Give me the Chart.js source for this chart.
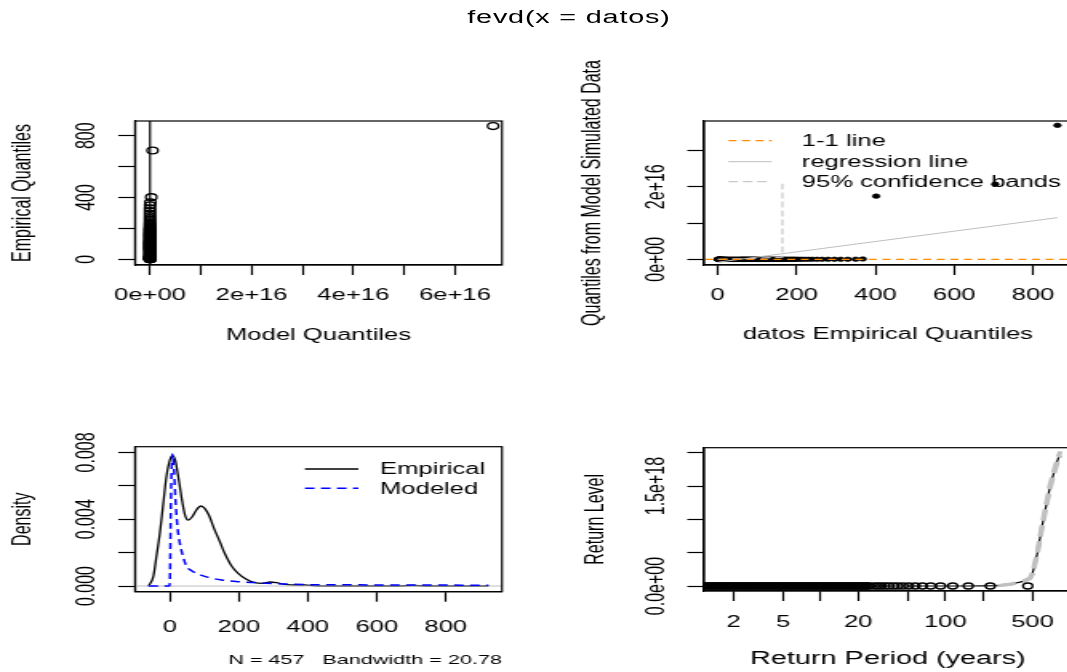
<!DOCTYPE html>
<html>
<head>
<meta charset="utf-8">
<script src="https://cdn.jsdelivr.net/npm/chart.js@4/dist/chart.umd.min.js"></script>
<style>
  html, body { margin: 0; padding: 0; background: #fff; overflow: hidden; width: 1067px; height: 672px; }
  /* the figure is laid out in a narrow frame and widened horizontally */
  #fig { position: absolute; left: 0; top: 0; width: 712px; height: 672px; transform: scaleX(1.6); transform-origin: 0 0; }
  #fig canvas { position: absolute; }
  #title { position: absolute; left: 355.6px; top: 8.1px; transform: translateX(-50%);
           font: 18px/18px 'Liberation Sans', Arial, sans-serif; letter-spacing: 0.5px; white-space: nowrap; color: #000; }
</style>
</head>
<body>
<div id="fig">
  <div id="title">fevd(x = datos)</div>
  <canvas id="qq"   width="356" height="320" style="left:0;top:40px"></canvas>
  <canvas id="sim"  width="356" height="320" style="left:356px;top:40px"></canvas>
  <canvas id="dens" width="356" height="307" style="left:0;top:365px"></canvas>
  <canvas id="rl"   width="356" height="307" style="left:356px;top:365px"></canvas>
</div>
<script>
// ---------- data ----------
// empirical quantiles of the sample (sorted ascending)
const datos = [
  0, 0, 1, 1, 2, 2, 3, 3, 4, 4, 5, 5, 6, 6, 7, 7, 8, 9, 10, 11,
  12, 13, 14, 15, 17, 19, 21, 23, 25, 28, 31, 34, 37,
  40, 43, 46, 49, 52, 55, 58, 60, 62, 64, 66, 68, 70, 72, 74, 76, 78, 80, 82, 84,
  86, 88, 90, 92, 94, 96, 98, 100, 102, 104, 106, 108, 110, 112, 114, 116, 118, 121, 124, 127,
  130, 133, 136, 139, 142, 145, 148, 151, 154, 157, 160, 163, 166, 169, 172, 176, 180, 184, 188, 192,
  196, 200,
  206, 213, 221, 230, 240, 252, 265, 280, 296, 312, 330,
  350, 368, 402, 704, 862];
// fitted model quantiles at the same probabilities
const modelQ = [
  0, 0, 0, 0, 0, 0, 0, 0, 1, 1, 1, 1, 1, 1, 1, 1, 2, 2, 2, 3,
  3, 4, 4, 5, 6, 7, 9, 11, 13, 17, 22, 28, 36,
  45, 58, 75, 95, 120, 150, 190, 240, 280, 330, 390, 460, 540, 640, 750, 880, 1.0e3, 1.2e3, 1.4e3, 1.7e3,
  2e3, 2.4e3, 2.9e3, 3.5e3, 4.2e3, 5e3, 6e3, 7.2e3, 8.6e3, 1e4, 1.2e4, 1.5e4, 1.8e4, 2.2e4, 2.7e4, 3.3e4, 4e4, 5.2e4, 6.8e4, 9e4,
  1.2e5, 1.6e5, 2.1e5, 2.8e5, 3.7e5, 4.9e5, 6.5e5, 8.6e5, 1.1e6, 1.5e6, 2e6, 2.7e6, 3.6e6, 4.8e6, 6.4e6, 9e6, 1.3e7, 1.8e7, 2.6e7, 3.7e7,
  5.3e7, 7.6e7,
  1.5e8, 3.5e8, 9e8, 2.4e9, 6.8e9, 2e10, 6e10, 1.9e11, 6e11, 2e12, 7e12,
  2.4e13, 8e13, 2.5e14, 5e14, 6.75e16];
// quantiles of data simulated from the fitted model
const simQ = [
  0, 0, 0, 0, 0, 0, 0, 1, 1, 1, 1, 1, 1, 1, 2, 2, 2, 2, 3, 3,
  4, 4, 5, 6, 7, 8, 10, 12, 15, 19, 24, 30, 38,
  48, 62, 80, 100, 125, 160, 200, 250, 300, 350, 410, 480, 560, 660, 780, 910, 1.05e3, 1.25e3, 1.45e3, 1.75e3,
  2.1e3, 2.5e3, 3e3, 3.6e3, 4.3e3, 5.2e3, 6.2e3, 7.4e3, 8.8e3, 1.05e4, 1.25e4, 1.55e4, 1.9e4, 2.3e4, 2.8e4, 3.4e4, 4.2e4, 5.4e4, 7e4, 9.3e4,
  1.25e5, 1.65e5, 2.2e5, 2.9e5, 3.8e5, 5e5, 6.7e5, 8.9e5, 1.15e6, 1.55e6, 2.1e6, 2.8e6, 3.7e6, 5e6, 6.6e6, 9.3e6, 1.35e7, 1.9e7, 2.7e7, 3.9e7,
  5.5e7, 8e7,
  1.6e8, 3.7e8, 9.5e8, 2.5e9, 7e9, 2.1e10, 6.3e10, 2e11, 6.3e11, 2.1e12, 7.3e12,
  2.6e13, 9e13, 1.74e16, 2.07e16, 3.69e16];
// empirical return period of each value in datos
const rlPeriod = [
  1.07, 1.107, 1.145, 1.184, 1.225, 1.267, 1.31, 1.355, 1.402, 1.45,
  1.499, 1.551, 1.604, 1.659, 1.716, 1.775, 1.836, 1.899, 1.964, 2.031,
  2.101, 2.173, 2.247, 2.324, 2.404, 2.487, 2.572, 2.66, 2.751, 2.846,
  2.943, 3.044, 3.149, 3.257, 3.368, 3.484, 3.603, 3.727, 3.855, 3.987,
  4.124, 4.265, 4.411, 4.563, 4.719, 4.881, 5.048, 5.222, 5.401, 5.586,
  5.778, 5.976, 6.181, 6.393, 6.612, 6.839, 7.074, 7.316, 7.567, 7.827,
  8.095, 8.373, 8.66, 8.957, 9.264, 9.582, 9.911, 10.25, 10.6, 10.97,
  11.34, 11.73, 12.13, 12.55, 12.98, 13.43, 13.89, 14.36, 14.86, 15.36,
  15.89, 16.44, 17.0, 17.58, 18.19, 18.81, 19.46, 20.12, 20.81, 21.53,
  22.27, 23.03, 23.82, 24.64,
  26.9, 28.6, 30.5, 32.7, 35.2, 38.2, 41.6, 45.8, 50.9, 57.3, 65.4, 76.3,
  91.6, 114.5, 152.7, 229, 458];

const oneToOne = [-100, 1000];              // ends of the y = x line
const regX = [0, 862];                       // regression line
const regY = [-8e14, 1.148e16];
const bandX = [0, 80, 164, 164];             // 95% band (upper)
const bandY = [0, 2e14, 6e14, 2.08e16];

// kernel density of the data
const densX = [-62, -48, -39, -29, -19, -10, 0, 8, 16, 26, 36, 44, 53, 65, 77, 90, 101, 113,
  128, 145, 159, 179, 198, 222, 246, 270, 290, 309, 333, 362, 391, 420, 480, 660, 704, 750, 924];
const densY = [0, 0.00056, 0.00175, 0.00315, 0.00495, 0.00654, 0.00754, 0.0078, 0.0075, 0.00634,
  0.00505, 0.00425, 0.00395, 0.00415, 0.00455, 0.00479, 0.00465, 0.00425, 0.00345, 0.00265,
  0.00196, 0.0012, 0.00076, 0.0004, 0.0002, 0.00016, 0.00024, 0.0002, 0.0001, 0.00006,
  0.00006, 0.00001, 0, 0, 0.00003, 0, 0];
// fitted model density
const modX = [-62, -2, 0, 3, 7, 12.6, 16.4, 22, 29, 38.6, 48, 63, 82, 111, 150, 198, 256, 333, 420, 550, 700, 924];
const modY = [0, 0, 0.0002, 0.005, 0.0079, 0.00674, 0.00515, 0.00355, 0.00256, 0.00175, 0.0012,
  0.00092, 0.00072, 0.00052, 0.00036, 0.00026, 0.0002, 0.00012, 0.00008, 0.00007, 0.00006, 0.00005];

// model return level curve and its 95% interval
const rlT = [1.1, 2, 5, 10, 20, 50, 100, 150, 200, 265, 340, 420, 476, 500, 546, 592, 640, 690, 743, 800, 836];
const rlEst = [0, 90, 230, 1.2e3, 2.5e4, 5e7, 1e11, 5e13, 1e15, 5e15, 3e16, 7e16, 1.15e17, 1.9e17,
  4.9e17, 8.7e17, 1.19e18, 1.49e18, 1.71e18, 1.91e18, 1.99e18];
const ciT = [265, 340, 420, 476, 500, 546, 592, 640, 690, 743, 800, 836];
const ciLow = [4e15, 2.6e16, 6.5e16, 1.1e17, 1.8e17, 4.7e17, 8.4e17, 1.16e18, 1.46e18, 1.68e18, 1.88e18, 1.96e18];
const ciUpp = [6e15, 3.4e16, 7.5e16, 1.2e17, 2e17, 5.1e17, 9e17, 1.22e18, 1.52e18, 1.74e18, 1.94e18, 2.02e18];

// axis ticks and their labels
const qqXTicks = [0, 1e16, 2e16, 3e16, 4e16, 5e16, 6e16];
const qqXLabels = ['0e+00', '', '2e+16', '', '4e+16', '', '6e+16'];
const qqYTicks = [0, 200, 400, 600, 800];
const qqYLabels = ['0', '', '400', '', '800'];
const simXTicks = [0, 200, 400, 600, 800];
const simXLabels = ['0', '200', '400', '600', '800'];
const simYTicks = [0, 1e16, 2e16, 3e16];
const simYLabels = ['0e+00', '', '2e+16', ''];
const densXTicks = [0, 200, 400, 600, 800];
const densXLabels = ['0', '200', '400', '600', '800'];
const densYTicks = [0, 0.002, 0.004, 0.006, 0.008];
const densYLabels = ['0.000', '', '0.004', '', '0.008'];
const rlXTicks = [2, 5, 10, 20, 50, 100, 200, 500];
const rlXLabels = ['2', '5', '', '20', '', '100', '', '500'];
const rlYTicks = [0, 5e17, 1e18, 1.5e18, 2e18];
const rlYLabels = ['0.0e+00', '', '', '1.5e+18', ''];

// ---------- chart setup ----------
const FONT = "'Liberation Sans', Arial, sans-serif";
Chart.defaults.font.family = FONT;
Chart.defaults.font.size = 16;
Chart.defaults.color = '#000';
Chart.defaults.animation = false;
Chart.defaults.plugins.legend.display = false;
Chart.defaults.plugins.tooltip.enabled = false;

const meas = document.createElement('canvas').getContext('2d');
meas.font = 'normal 16px ' + FONT;

const TL_X = 10, TL_Y = 10.5, LABEL_DIST = 29.5;

function xAxis(o) {
  return {
    type: o.type || 'linear', position: 'bottom', bounds: 'data', min: o.min, max: o.max,
    afterBuildTicks: s => { s.ticks = o.ticks.map(v => ({ value: v })); },
    afterFit: s => { s.height = o.height; },
    ticks: { autoSkip: false, maxRotation: 0, minRotation: 0, padding: o.pad,
             callback: (v, i) => o.labels[i] },
    grid: { drawOnChartArea: false, drawTicks: true, tickLength: TL_X, tickColor: '#000', tickWidth: 1.2 },
    border: { display: true, color: '#000', width: 1.2 },
    title: { display: true, text: o.title, align: o.align || 'center',
             font: { size: o.titleSize || 16 }, padding: { top: 0, bottom: o.titlePad } }
  };
}
function yAxis(o) {
  const widest = Math.max(...o.labels.map(t => meas.measureText(t).width));
  return {
    type: 'linear', position: 'left', bounds: 'data', min: o.min, max: o.max,
    afterBuildTicks: s => { s.ticks = o.ticks.map(v => ({ value: v })); },
    afterFit: s => { s.width = o.width; },
    ticks: { autoSkip: false, minRotation: 90, maxRotation: 90, crossAlign: 'center',
             padding: LABEL_DIST - TL_Y - widest / 2, callback: (v, i) => o.labels[i] },
    grid: { drawOnChartArea: false, drawTicks: true, tickLength: TL_Y, tickColor: '#000', tickWidth: 1.2 },
    border: { display: true, color: '#000', width: 1.2 },
    title: { display: true, text: o.title, padding: { top: o.titlePad, bottom: 0 } }
  };
}

const pts = (xs, ys) => xs.map((x, i) => ({ x, y: ys[i] }));
const pointSet = (data, r, filled, order) => ({
  data, showLine: false, pointStyle: 'circle', pointRadius: r, pointBorderWidth: filled ? 0.6 : 1.3,
  pointBorderColor: '#000', pointBackgroundColor: filled ? '#000' : 'rgba(0,0,0,0)', clip: 0, order
});
const lineSet = (data, color, width, dash, order, smooth) => ({
  data, showLine: true, pointRadius: 0, borderColor: color, borderWidth: width,
  borderDash: dash || [], clip: 0, order, tension: 0,
  cubicInterpolationMode: smooth ? 'monotone' : 'default'
});

// plot frame around each chart area
const framePlugin = {
  id: 'frame',
  afterDatasetsDraw(chart) {
    const { ctx, chartArea: a } = chart;
    ctx.save();
    ctx.strokeStyle = '#000';
    ctx.lineWidth = 1.2;
    ctx.strokeRect(a.left, a.top, a.right - a.left, a.bottom - a.top);
    ctx.restore();
  }
};
// line-sample keys drawn inside the plot area
const keys = {
  sim: { x0: 15.2, x1: 42.3, tx: 61.1, rows: [19.7, 40.7, 60.7], items: [
    { label: '1-1 line', color: '#ff8c00', width: 1.2, dash: [5, 3.5] },
    { label: 'regression line', color: '#bebebe', width: 1, dash: [] },
    { label: '95% confidence bands', color: '#c8c8c8', width: 1.2, dash: [6, 3] } ] },
  dens: { x0: 106.2, x1: 139.6, tx: 153.1, rows: [22.3, 41.6], items: [
    { label: 'Empirical', color: '#000', width: 1.3, dash: [] },
    { label: 'Modeled', color: '#0000ff', width: 1.5, dash: [6, 4] } ] }
};
const keyPlugin = {
  id: 'key',
  afterDatasetsDraw(chart) {
    const k = keys[chart.canvas.id];
    if (!k) return;
    const { ctx, chartArea: a } = chart;
    ctx.save();
    ctx.font = 'normal 16px ' + FONT;
    ctx.textBaseline = 'middle';
    ctx.textAlign = 'left';
    ctx.fillStyle = '#000';
    k.items.forEach((it, i) => {
      const y = a.top + k.rows[i];
      ctx.beginPath();
      ctx.strokeStyle = it.color;
      ctx.lineWidth = it.width;
      ctx.setLineDash(it.dash);
      ctx.moveTo(a.left + k.x0, y);
      ctx.lineTo(a.left + k.x1, y);
      ctx.stroke();
      ctx.setLineDash([]);
      ctx.fillText(it.label, a.left + k.tx, y + 1);
    });
    ctx.restore();
  }
};
Chart.register(framePlugin, keyPlugin);

function makeChart(id, datasets, padding, x, y) {
  return new Chart(document.getElementById(id), {
    type: 'scatter',
    data: { datasets },
    options: {
      responsive: false, animation: false, events: [],
      layout: { padding },
      scales: { x, y },
      plugins: { legend: { display: false }, tooltip: { enabled: false } }
    }
  });
}

// Model quantiles vs empirical quantiles
makeChart('qq', [
  lineSet(pts(oneToOne, oneToOne), '#000', 1.2, [], 0),
  pointSet(pts(modelQ, datos), 3.4, false, 1)
], { left: 0, top: 81, right: 42.25, bottom: 0 },
  xAxis({ min: -0.295e16, max: 6.925e16, ticks: qqXTicks, labels: qqXLabels, pad: 11.2,
          title: 'Model Quantiles', titlePad: 14.9, height: 95 }),
  yAxis({ min: -37, max: 895, ticks: qqYTicks, labels: qqYLabels,
          title: 'Empirical Quantiles', titlePad: 4.8, width: 84.4 }));

// Empirical quantiles vs quantiles of simulated data
makeChart('sim', [
  lineSet(pts(oneToOne, oneToOne), '#ff8c00', 1.2, [5, 3.5], 0),
  lineSet(pts(regX, regY), '#bebebe', 1, [], 0),
  lineSet(pts(bandX, bandY), '#c8c8c8', 1.2, [6, 3], 0),
  pointSet(pts(datos, simQ), 2.3, true, 1)
], { left: 0, top: 81, right: 42.25, bottom: 0 },
  xAxis({ min: -34.8, max: 898, ticks: simXTicks, labels: simXLabels, pad: 11,
          title: 'datos Empirical Quantiles', titlePad: 15.4, height: 95 }),
  yAxis({ min: -0.157e16, max: 3.81e16, ticks: simYTicks, labels: simYLabels,
          title: 'Quantiles from Model Simulated Data', titlePad: 4.7, width: 84 }));

// Density: empirical vs modeled
makeChart('dens', [
  lineSet(pts(modX, modY), '#0000ff', 1.5, [6, 4], 0, true),
  lineSet(pts([-200, 1200], [0, 0]), '#bebebe', 1, [], 1),
  lineSet(pts(densX, densY), '#000', 1.3, [], 2, true)
], { left: 0, top: 81.7, right: 42.25, bottom: 0 },
  xAxis({ min: -101, max: 963, ticks: densXTicks, labels: densXLabels, pad: 16.2,
          title: 'N = 457   Bandwidth = 20.78', align: 'end', titleSize: 13.5, titlePad: 3.6, height: 80.3 }),
  yAxis({ min: -0.00034, max: 0.00834, ticks: densYTicks, labels: densYLabels,
          title: 'Density', titlePad: 4.8, width: 84.4 }));

// Return level plot
makeChart('rl', [
  pointSet(pts(rlPeriod, datos), 3, false, 0),
  lineSet(pts(ciT, ciLow), '#c0c0c0', 3, [11, 5], 1),
  lineSet(pts(ciT, ciUpp), '#c0c0c0', 3, [11, 5], 1),
  lineSet(pts(rlT, rlEst), '#000', 1.2, [], 2)
], { left: 0, top: 82.7, right: 42.25, bottom: 0 },
  xAxis({ type: 'logarithmic', min: 1.163, max: 1029, ticks: rlXTicks, labels: rlXLabels, pad: 11.9,
          title: 'Return Period (years)', titleSize: 18, titlePad: 1.8, height: 81 }),
  yAxis({ min: -0.075e18, max: 2.0766e18, ticks: rlYTicks, labels: rlYLabels,
          title: 'Return Level', titlePad: 7, width: 84 }));
</script>
</body>
</html>
